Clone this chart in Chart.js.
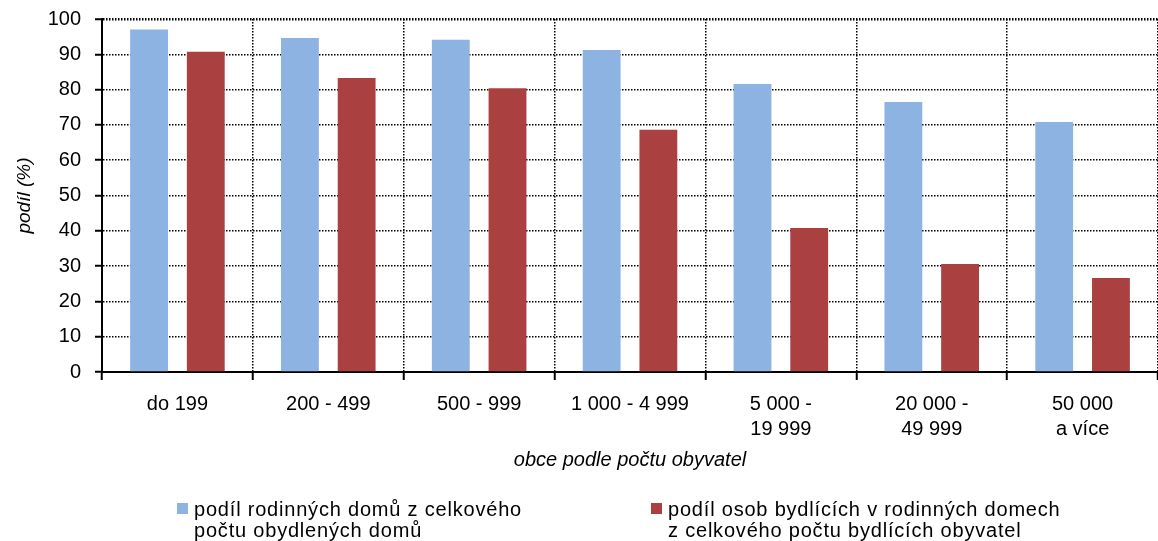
<!DOCTYPE html>
<html>
<head>
<meta charset="utf-8">
<script src="https://cdn.jsdelivr.net/npm/chart.js@4/dist/chart.umd.min.js"></script>
<style>
  html, body { margin: 0; padding: 0; background: #fff; }
  #wrap { position: relative; width: 1158px; height: 541px; }
  #legend { position: absolute; left: 0; top: 0; width: 1158px; height: 541px; pointer-events: none;
            font-family: 'Liberation Sans', Arial, sans-serif; font-size: 20px; color: #000; }
  .item { position: absolute; top: 499px; line-height: 21px; letter-spacing: 0.8px; }
  .box { position: absolute; left: -17px; top: 4px; width: 11px; height: 11px; }
</style>
</head>
<body>
<div id="wrap">
  <canvas id="chart"></canvas>
  <div id="legend"></div>
</div>
<script>
// ── DATA ──────────────────────────────────────────────────────────────────
const categories = [
  'do 199',
  '200 - 499',
  '500 - 999',
  '1 000 - 4 999',
  ['5 000 -', '19 999'],
  ['20 000 -', '49 999'],
  ['50 000', 'a více']
];
const houseShare  = [97.0, 94.6, 94.1, 91.2, 81.6, 76.5, 70.8];
const peopleShare = [90.7, 83.3, 80.4, 68.6, 40.8, 30.6, 26.6];
const seriesNames = [
  ['podíl rodinných domů z celkového', 'počtu obydlených domů'],
  ['podíl osob bydlících v rodinných domech', 'z celkového počtu bydlících obyvatel']
];
const yTicks = [0, 10, 20, 30, 40, 50, 60, 70, 80, 90, 100];

// ── CHART ─────────────────────────────────────────────────────────────────
const FONT = "'Liberation Sans', Arial, sans-serif";
Chart.defaults.color = '#000';
Chart.defaults.font.family = FONT;

const colors = ['#8db3e2', '#aa4040'];

const chart = new Chart(document.getElementById('chart'), {
  type: 'bar',
  data: {
    labels: categories,
    datasets: [
      { label: seriesNames[0].join(' '), data: houseShare,  backgroundColor: colors[0] },
      { label: seriesNames[1].join(' '), data: peopleShare, backgroundColor: colors[1] }
    ]
  },
  options: {
    responsive:          true,
    maintainAspectRatio: false,
    animation:           false,
    categoryPercentage:  0.752,
    barPercentage:       0.667,
    layout: { padding: { top: 19, bottom: 69, left: 0, right: 0 } },
    plugins: {
      legend:  { display: false },
      tooltip: { enabled: false }
    },
    scales: {
      x: {
        grid: {
          color:          '#000',
          lineWidth:      1.5,
          tickLength:     8,
          tickBorderDash: [],
          tickWidth:      2
        },
        border: { color: '#000', width: 2, dash: [1.5, 1.5] },
        ticks: {
          font:        { size: 20, lineHeight: 1.25 },
          padding:     12,
          maxRotation: 0,
          autoSkip:    false
        },
        title: {
          display: true,
          text:    'obce podle počtu obyvatel',
          font:    { size: 20, style: 'italic', lineHeight: 1.2 },
          padding: { top: 0, bottom: 0 }
        },
        afterFit: function(scale) {
          scale.height = 100;
          scale.paddingLeft = 0;
          scale.paddingRight = 0;
        }
      },
      y: {
        min: 0,
        max: 100,
        afterBuildTicks: function(scale) {
          scale.ticks = yTicks.map(function(v) { return { value: v }; });
        },
        grid: {
          color:          '#000',
          lineWidth:      function(ctx) { return ctx.tick && ctx.tick.value === 100 ? 2.5 : 1.5; },
          tickLength:     7,
          tickBorderDash: [],
          tickWidth:      2
        },
        border: { color: '#000', width: 2, dash: [1.5, 1.5] },
        ticks: {
          font:    { size: 20 },
          padding: 14
        },
        title: {
          display: true,
          text:    'podíl (%)',
          font:    { size: 19, style: 'italic', lineHeight: 1.2 },
          padding: { top: 13, bottom: 0 }
        },
        afterFit: function(scale) {
          scale.width = 102;
          scale.paddingTop = 0;
          scale.paddingBottom = 0;
        }
      }
    }
  }
});

// ── LEGEND (html, built from the datasets) ────────────────────────────────
const legendLeft = [194, 668];
const legendEl = document.getElementById('legend');
chart.data.datasets.forEach(function(ds, i) {
  const item = document.createElement('div');
  item.className = 'item';
  item.style.left = legendLeft[i] + 'px';
  const box = document.createElement('span');
  box.className = 'box';
  box.style.background = ds.backgroundColor;
  item.appendChild(box);
  seriesNames[i].forEach(function(line) {
    const l = document.createElement('div');
    l.textContent = line;
    item.appendChild(l);
  });
  legendEl.appendChild(item);
});
</script>
</body>
</html>
